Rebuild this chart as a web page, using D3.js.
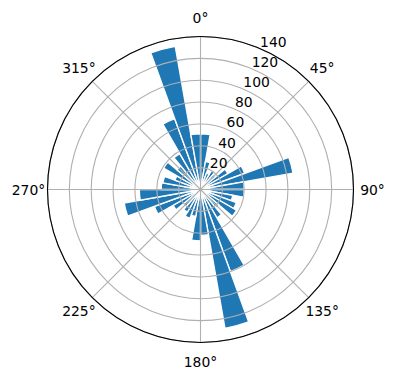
<!DOCTYPE html>
<html>
<head>
<meta charset="utf-8">
<script src="https://cdn.jsdelivr.net/npm/d3@7"></script>
<style>
  body { margin: 0; background: #fff; }
  svg text { font-family: "DejaVu Sans", sans-serif; font-size: 13.9px; fill: #000; }
</style>
</head>
<body>
<svg id="vis-svg"></svg>
<script>
// direction bins (deg, clockwise from north) and counts per bin
const binStarts = d3.range(0, 360, 10);
const counts = [51, 26, 16, 20, 18, 29, 43, 86, 40,
                40, 30, 35, 38, 22, 30, 80, 129, 42,
                47, 25, 28, 24, 20, 29, 45, 71, 56,
                36, 35, 25, 39, 28, 38, 69, 133, 51];
const radialTicks = [20, 40, 60, 80, 100, 120, 140];
const angleTicks = [0, 45, 90, 135, 180, 225, 270, 315];
const angleLabels = ["0°", "45°", "90°", "135°", "180°", "225°", "270°", "315°"];

const width = 396, height = 380,
    cx = 200.5, cy = 189.5,
    outer = 153,
    binWidth = 10,
    rLabelAngle = 22.5;

const svg = d3.select("#vis-svg")
    .attr("width", width)
    .attr("height", height);

const g = svg.append("g")
    .attr("transform", "translate(" + cx + "," + cy + ")");

const r = d3.scaleLinear().domain([0, 140]).range([0, outer]);
const rad = d => d * Math.PI / 180;

// bars (d3.arc angles: 0 at top, clockwise, like theta_zero N / clockwise)
const arc = d3.arc()
    .innerRadius(0)
    .outerRadius(d => r(d.value))
    .startAngle(d => rad(d.start))
    .endAngle(d => rad(d.start + binWidth));

const bars = binStarts.map((s, i) => ({ start: s, value: counts[i] }));

g.selectAll(".bar")
    .data(bars)
    .enter().append("path")
    .attr("class", "bar")
    .attr("d", arc)
    .attr("fill", "#1f77b4")
    .attr("stroke", "#ffffff")
    .attr("stroke-width", 1.4);

// grid drawn above the bars
g.selectAll(".ring")
    .data(radialTicks)
    .enter().append("circle")
    .attr("r", d => r(d))
    .attr("fill", "none")
    .attr("stroke", "#b0b0b0")
    .attr("stroke-width", 1.1);

g.selectAll(".spoke")
    .data(angleTicks)
    .enter().append("line")
    .attr("x1", 0).attr("y1", 0)
    .attr("x2", d => outer * Math.sin(rad(d)))
    .attr("y2", d => -outer * Math.cos(rad(d)))
    .attr("stroke", "#b0b0b0")
    .attr("stroke-width", 1.1);

// outer spine
g.append("circle")
    .attr("r", outer)
    .attr("fill", "none")
    .attr("stroke", "#000")
    .attr("stroke-width", 1.1);

// angle labels
g.selectAll(".alabel")
    .data(angleTicks)
    .enter().append("text")
    .attr("x", d => 172 * Math.sin(rad(d)))
    .attr("y", d => -172 * Math.cos(rad(d)))
    .attr("text-anchor", "middle")
    .attr("dominant-baseline", "central")
    .text((d, i) => angleLabels[i]);

// radial labels
g.selectAll(".rlabel")
    .data(radialTicks)
    .enter().append("text")
    .attr("x", d => r(d) * Math.sin(rad(rLabelAngle)) + 1)
    .attr("y", d => -r(d) * Math.cos(rad(rLabelAngle)) - 1.5)
    .text(d => d);
</script>
</body>
</html>
